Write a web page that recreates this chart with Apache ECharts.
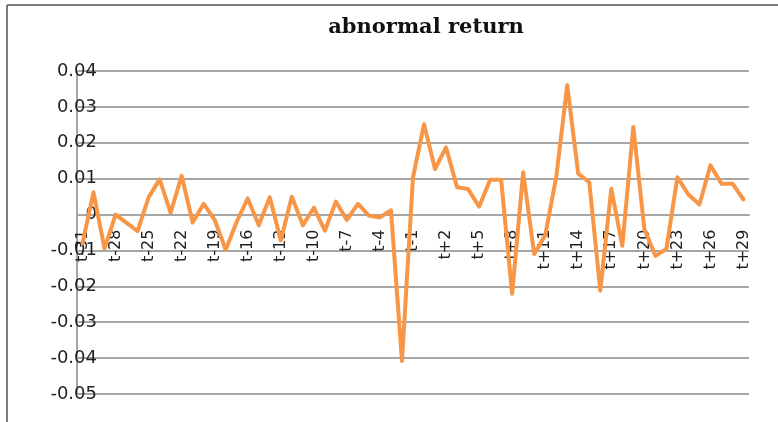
<!DOCTYPE html>
<html>
<head>
<meta charset="utf-8">
<title>abnormal return</title>
<script src="https://cdn.jsdelivr.net/npm/echarts@6/dist/echarts.min.js"></script>
<style>
  html, body { margin: 0; padding: 0; background: #fff; }
  #chart { width: 778px; height: 422px; }
</style>
</head>
<body>
<div id="chart"></div>
<script>
// event window, t-31 .. t+29
const days = [
  't-31', 't-30', 't-29', 't-28', 't-27', 't-26', 't-25', 't-24', 't-23', 't-22',
  't-21', 't-20', 't-19', 't-18', 't-17', 't-16', 't-15', 't-14', 't-13', 't-12',
  't-11', 't-10', 't-9', 't-8', 't-7', 't-6', 't-5', 't-4', 't-3', 't-2',
  't-1', 't', 't+1', 't+2', 't+3', 't+4', 't+5', 't+6', 't+7', 't+8',
  't+9', 't+10', 't+11', 't+12', 't+13', 't+14', 't+15', 't+16', 't+17', 't+18',
  't+19', 't+20', 't+21', 't+22', 't+23', 't+24', 't+25', 't+26', 't+27', 't+28',
  't+29'
]

// abnormal return per day
const abnormalReturn = [
  -0.0080, 0.0062, -0.0095, 0.0000, -0.0023, -0.0046, 0.0048, 0.0098, 0.0005, 0.0108,
  -0.0022, 0.0030, -0.0015, -0.0098, -0.0020, 0.0045, -0.0030, 0.0048, -0.0072, 0.0050,
  -0.0030, 0.0019, -0.0045, 0.0036, -0.0015, 0.0030, -0.0003, -0.0008, 0.0012, -0.0408,
  0.0104, 0.0252, 0.0127, 0.0187, 0.0076, 0.0071, 0.0022, 0.0097, 0.0097, -0.0221,
  0.0118, -0.0110, -0.0058, 0.0104, 0.0360, 0.0114, 0.0090, -0.0212, 0.0072, -0.0087,
  0.0244, -0.0040, -0.0115, -0.0096, 0.0104, 0.0056, 0.0028, 0.0137, 0.0086, 0.0086,
  0.0042
]

const yRange = [-0.05, 0.04] // value axis min / max, step 0.01

const gridColor = '#a6a6a6'
const labelFont = 'DejaVu Sans'

// plot box
const plot = { left: 77, right: 29, top: 71, bottom: 28 }
const plotHeight = 422 - plot.top - plot.bottom
// the category labels hang under the zero line, so lift the x axis up to it
const zeroShift = plotHeight * (0 - yRange[0]) / (yRange[1] - yRange[0])

const chart = echarts.init(document.getElementById('chart'))

const option = {
  animation: false,
  backgroundColor: '#fff',
  grid: plot,
  graphic: [
    // outer frame (only top and left edges are visible)
    { type: 'line', shape: { x1: 7, y1: 5, x2: 778, y2: 5 }, style: { stroke: '#7a7a7a', lineWidth: 2 } },
    { type: 'line', shape: { x1: 7, y1: 5, x2: 7, y2: 422 }, style: { stroke: '#7a7a7a', lineWidth: 2 } },
    {
      type: 'text',
      x: 426,
      y: 28,
      style: {
        text: 'abnormal return',
        font: 'bold 21px "DejaVu Serif"',
        fill: '#111',
        align: 'center',
        verticalAlign: 'middle'
      }
    }
  ],
  xAxis: {
    type: 'category',
    data: days,
    boundaryGap: true,
    offset: -zeroShift,
    axisLine: { onZero: false, lineStyle: { color: gridColor, width: 2 } },
    axisTick: { show: false },
    axisLabel: {
      rotate: 90,
      interval: 2,
      margin: 15,
      fontSize: 16,
      fontFamily: labelFont,
      color: '#222'
    }
  },
  yAxis: {
    type: 'value',
    min: yRange[0],
    max: yRange[1],
    interval: 0.01,
    axisLine: { show: true, lineStyle: { color: gridColor, width: 2 } },
    axisTick: { show: false },
    splitLine: { lineStyle: { color: gridColor, width: 2 } },
    axisLabel: {
      margin: -20, // labels sit across the axis line like in the source
      fontSize: 18,
      fontFamily: labelFont,
      color: '#222'
    }
  },
  series: [
    {
      name: 'abnormal return',
      type: 'line',
      data: abnormalReturn,
      symbol: 'none',
      lineStyle: { color: '#f79646', width: 4, join: 'round', cap: 'round' }
    }
  ]
}

chart.setOption(option)
</script>
</body>
</html>
